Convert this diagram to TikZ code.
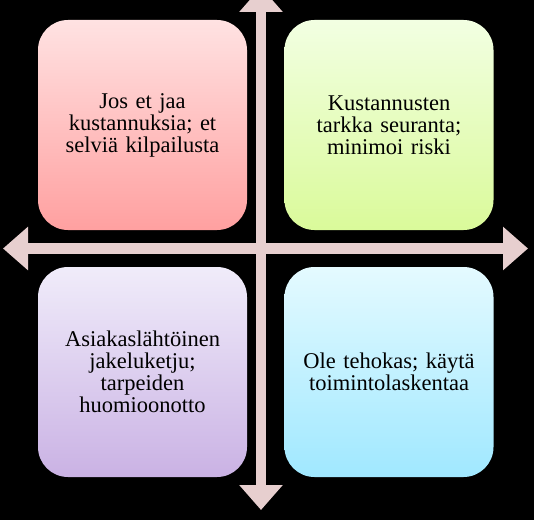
\documentclass[tikz,border=0pt]{standalone}
\usepackage{fontspec}
\setmainfont{Liberation Serif}
\usetikzlibrary{arrows.meta}
\definecolor{axiscol}{RGB}{231,207,207}
\begin{document}
\begin{tikzpicture}[x=1pt,y=1pt,
    quad/.style={rounded corners=30pt, minimum width=209pt, minimum height=210pt,
        text width=200pt, align=center, text=black,
        font=\fontsize{22.5}{22}\selectfont},
    axis/.style={draw=axiscol, line width=10.5pt,
        {Triangle[length=25pt,width=42pt]}-{Triangle[length=25pt,width=42pt]}}]

    \fill[black] (0,0) rectangle (534,520);
    \useasboundingbox (0,0) rectangle (534,520);
    \clip (0,0) rectangle (534,520);

    \coordinate (ylos) at (261,533);
    \coordinate (alas) at (261,10);
    \coordinate (vasen) at (3,271.5);
    \coordinate (oikea) at (528,271.5);
    \draw[axis] (alas) -- (ylos);
    \draw[axis] (vasen) -- (oikea);

    \node[quad, top color={rgb,255:red,255;green,226;blue,226}, bottom color={rgb,255:red,255;green,160;blue,160}] (kilpailu) at (142.5,395) {Jos et jaa\\kustannuksia; et\\selviä kilpailusta};
    \node[quad, top color={rgb,255:red,242;green,255;blue,226}, bottom color={rgb,255:red,218;green,250;blue,154}] (seuranta) at (389,395) {Kustannusten\\tarkka seuranta;\\minimoi riski};
    \node[quad, top color={rgb,255:red,240;green,236;blue,250}, bottom color={rgb,255:red,202;green,178;blue,228}] (jakelu) at (142.5,148) {Asiakaslähtöinen\\jakeluketju;\\tarpeiden\\huomioonotto};
    \node[quad, top color={rgb,255:red,228;green,250;blue,255}, bottom color={rgb,255:red,160;green,232;blue,255}] (tehokas) at (389,148) {Ole tehokas; käytä\\toimintolaskentaa};
\end{tikzpicture}
\end{document}
